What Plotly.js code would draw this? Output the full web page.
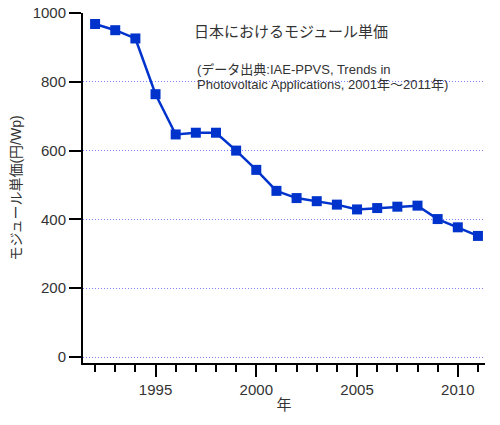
<!DOCTYPE html>
<html><head><meta charset="utf-8">
<script src="https://cdn.plot.ly/plotly-3.0.1.min.js"></script>
<style>html,body{margin:0;padding:0;background:#fff}#chart{width:500px;height:425px}</style>
</head><body><div id="chart"></div>
<script>
var years = [1992,1993,1994,1995,1996,1997,1998,1999,2000,2001,2002,2003,2004,2005,2006,2007,2008,2009,2010,2011];
var prices = [968,950,926,764,647,652,652,600,544,483,462,453,443,429,433,437,440,401,377,352];
var titleText = "日本におけるモジュール単価";
var sourceLines = ["(データ出典:IAE-PPVS, Trends in", "Photovoltaic Applications, 2001年～2011年)"];
var yTitle = "モジュール単価(円/Wp)";
var xTitle = "年";
var font = "'Liberation Sans', 'Noto Sans CJK JP', sans-serif";
var txt = '#333';

var trace = {
  x: years, y: prices, type: 'scatter', mode: 'lines+markers',
  line: {color: '#0033cc', width: 2.5},
  marker: {symbol: 'square', size: 10, color: '#0033cc'},
  hoverinfo: 'none'
};
var layout = {
  width: 500, height: 425,
  margin: {l: 83, r: 15, t: 13, b: 62},
  paper_bgcolor: '#fff', plot_bgcolor: '#fff',
  showlegend: false,
  font: {family: font, size: 13, color: txt},
  xaxis: {
    range: [1991.4, 2011.35], tick0: 1995, dtick: 5,
    ticks: 'outside', ticklen: 12, tickwidth: 2, tickcolor: '#000',
    showline: true, linecolor: '#000', linewidth: 2,
    showgrid: false, zeroline: false,
    minor: {dtick: 1, tick0: 1995, ticks: 'outside', ticklen: 7, tickwidth: 2, tickcolor: '#000', showgrid: false},
    tickfont: {size: 15, color: txt},
    title: {text: xTitle, font: {size: 15, color: txt}, standoff: 2}
  },
  yaxis: {
    range: [-17.4, 1000], dtick: 200, tick0: 0,
    ticks: 'outside', ticklen: 12, tickwidth: 2, tickcolor: '#000',
    showline: true, linecolor: '#000', linewidth: 2,
    showgrid: true, gridcolor: '#8080ff', griddash: '1px,2px', gridwidth: 1,
    zeroline: false,
    tickfont: {size: 15, color: txt},
    title: {text: yTitle, font: {size: 14, color: txt}, standoff: 8}
  },
  annotations: [
    {xref: 'paper', yref: 'paper', x: 0.272, y: 0.948, xanchor: 'left', yanchor: 'middle',
     text: titleText, showarrow: false, font: {size: 15, color: txt}},
    {xref: 'paper', yref: 'paper', x: 0.278, y: 0.838, xanchor: 'left', yanchor: 'middle',
     text: sourceLines[0], showarrow: false, font: {size: 13, color: txt}},
    {xref: 'paper', yref: 'paper', x: 0.278, y: 0.796, xanchor: 'left', yanchor: 'middle',
     text: sourceLines[1], showarrow: false, font: {size: 13, color: txt}}
  ]
};
Plotly.newPlot('chart', [trace], layout, {displayModeBar: false, staticPlot: true});
</script></body></html>
